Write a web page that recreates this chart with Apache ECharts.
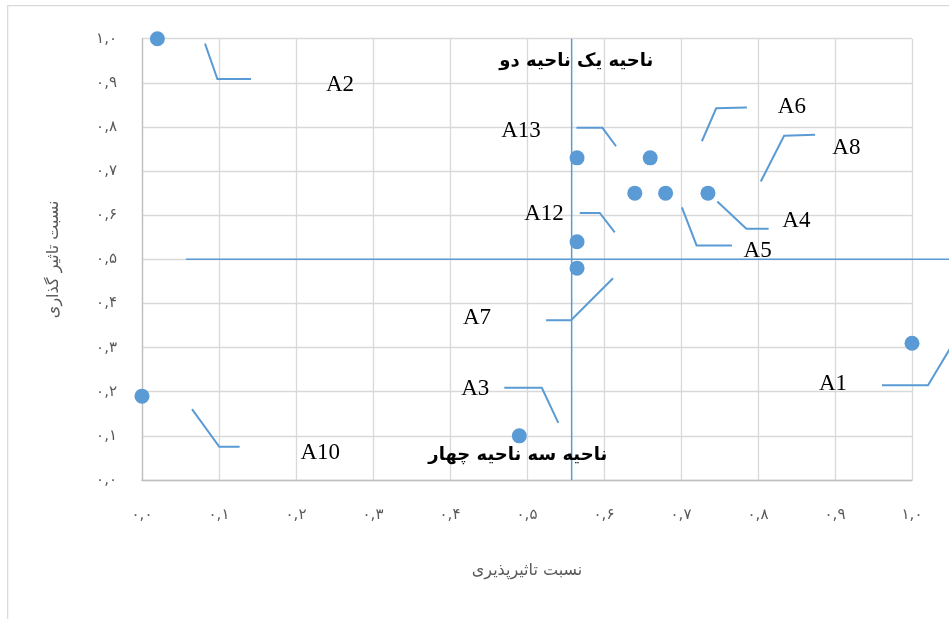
<!DOCTYPE html>
<html>
<head>
<meta charset="utf-8">
<script src="https://cdn.jsdelivr.net/npm/echarts@6/dist/echarts.min.js"></script>
<style>
html,body{margin:0;padding:0;background:#fff;}
#chart{width:949px;height:619px;}
</style>
</head>
<body>
<div id="chart"></div>
<script>
// ---- data ----
const pointNames = ['A1','A2','A3','A4','A5','A6','A7','A8','A10','A12','A13'];
const susceptibility = [1.0, 0.02, 0.49, 0.735, 0.68, 0.66, 0.565, 0.64, 0.0, 0.565, 0.565]; // x
const influence      = [0.31, 1.0, 0.10, 0.65, 0.65, 0.73, 0.48, 0.65, 0.19, 0.54, 0.73];   // y
const axisTicks = [0,0.1,0.2,0.3,0.4,0.5,0.6,0.7,0.8,0.9,1.0];
const xAxisTitle = 'نسبت تاثیرپذیری';
const yAxisTitle = 'نسبت تاثیر گذاری';
const quadrantX = 0.558;
const quadrantY = 0.5;
const regionTop = 'ناحیه یک ناحیه دو';
const regionBottom = 'ناحیه سه ناحیه چهار';

// ---- layout (pixel offsets of callouts relative to their point) ----
const callout = {
  A1:  {line:[[-30,42],[16,42],[40,2]],    text:[-79,41]},
  A2:  {line:[[47.6,5],[60,40.3],[93.6,40.3]], text:[182.6,46]},
  A3:  {line:[[-15,-48],[22.5,-48],[39,-13]], text:[-44,-47]},
  A4:  {line:[[9.4,8.3],[38.4,35.6],[60.7,35.6]], text:[88.4,27.3]},
  A5:  {line:[[16.3,14.3],[31,52.3],[66.3,52.3]], text:[92,57.6]},
  A6:  {line:[[51.7,-16.6],[66,-49.6],[96.7,-50.3]], text:[141.7,-51.3]},
  A7:  {line:[[-31,52],[-6,52],[36,10]], text:[-100,50]},
  A8:  {line:[[126,-11.7],[149.3,-57.4],[180.3,-58.4]], text:[211.6,-45]},
  A10: {line:[[50,13],[77.3,50.7],[97.6,50.7]], text:[178.3,56.4]},
  A12: {line:[[2.7,-28.7],[22.7,-28.7],[37.7,-9.3]], text:[-33,-28]},
  A13: {line:[[-0.6,-30],[25.4,-30],[39,-11.6]], text:[-56,-27]}
};
const regionPos = {top:[0.564,0.948], bottom:[0.488,0.057]};
const hLineStartX = 0.057;

const BLUE = '#5b9bd5';
const GRAY = '#595959';
const faDigits = '۰۱۲۳۴۵۶۷۸۹';
function fa(v){ return v.toFixed(1).replace('.', ',').replace(/\d/g, d => faDigits[+d]); }

const pts = pointNames.map((n,i)=>[susceptibility[i], influence[i], n]);

const chart = echarts.init(document.getElementById('chart'), null, {renderer:'canvas'});
const axisCommon = {
  type:'value', min:0, max:1, interval:0.1,
  axisLine:{show:true, lineStyle:{color:'#bfbfbf', width:1.3}},
  axisTick:{show:false},
  splitLine:{show:true, lineStyle:{color:'#d9d9d9', width:1.3}},
  axisLabel:{color:GRAY, fontSize:15, fontFamily:'DejaVu Sans', formatter:fa},
  nameLocation:'middle',
  nameTextStyle:{color:GRAY, fontSize:16, fontFamily:'DejaVu Sans'}
};
chart.setOption({
  animation:false,
  backgroundColor:'#fff',
  graphic:[{type:'rect', left:7, top:5, z:-10, silent:true,
    shape:{width:1000, height:700}, style:{fill:'#fff', stroke:'#d9d9d9', lineWidth:1.3}}],
  grid:{left:142, right:37, top:38.7, bottom:139, containLabel:false},
  xAxis:Object.assign({}, axisCommon, {name:xAxisTitle, nameGap:83,
    axisLabel:Object.assign({}, axisCommon.axisLabel, {margin:28})}),
  yAxis:Object.assign({}, axisCommon, {name:yAxisTitle, nameGap:80,
    axisLabel:Object.assign({}, axisCommon.axisLabel, {margin:25})}),
  series:[
    // quadrant divider lines
    {type:'custom', data:[[quadrantX, quadrantY]], z:3, silent:true,
      renderItem:function(params, api){
        const c = api.coord([api.value(0), api.value(1)]);
        const hs = api.coord([hLineStartX, quadrantY]);
        const top = api.coord([api.value(0), 1]);
        const bottom = api.coord([api.value(0), 0]);
        return {type:'group', children:[
          {type:'line', shape:{x1:hs[0], y1:c[1], x2:api.getWidth()+10, y2:c[1]},
            style:{stroke:BLUE, lineWidth:1.5}},
          {type:'line', shape:{x1:c[0], y1:top[1], x2:c[0], y2:bottom[1]},
            style:{stroke:BLUE, lineWidth:1.5}}
        ]};
      }},
    {type:'scatter', data:pts, symbolSize:15, itemStyle:{color:BLUE, opacity:1}, z:5},
    {type:'custom', data:pts, z:4, silent:true,
      renderItem:function(params, api){
        const p = api.coord([api.value(0), api.value(1)]);
        const c = callout[pointNames[params.dataIndex]];
        return {type:'group', children:[
          {type:'polyline', shape:{points:c.line.map(o=>[p[0]+o[0], p[1]+o[1]])},
            style:{stroke:BLUE, lineWidth:2, fill:null}},
          {type:'text', x:p[0]+c.text[0], y:p[1]+c.text[1],
            style:{text:pointNames[params.dataIndex], fill:'#000', font:'23px "Liberation Serif"',
              align:'center', verticalAlign:'middle'}}
        ]};
      }},
    {type:'custom', data:[[regionPos.top[0],regionPos.top[1]],[regionPos.bottom[0],regionPos.bottom[1]]], z:6, silent:true,
      renderItem:function(params, api){
        const p = api.coord([api.value(0), api.value(1)]);
        return {type:'text', x:p[0], y:p[1],
          style:{text: params.dataIndex===0 ? regionTop : regionBottom, fill:'#000',
            font:'bold 18px "DejaVu Sans"', align:'center', verticalAlign:'middle'}};
      }}
  ]
});
</script>
</body>
</html>
